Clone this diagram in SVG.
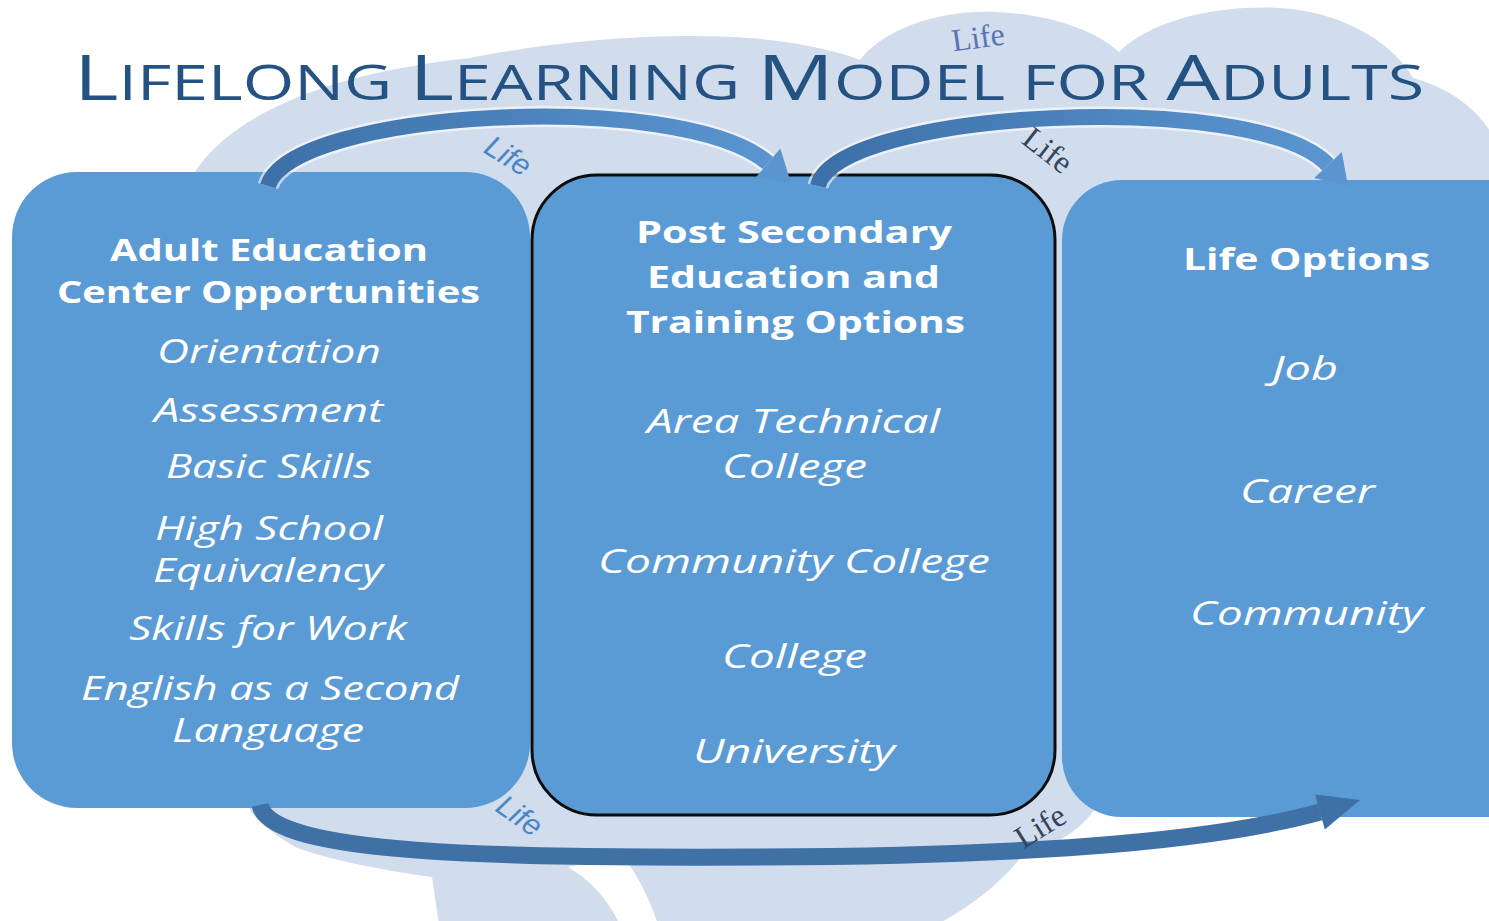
<svg xmlns="http://www.w3.org/2000/svg" width="1489" height="921" viewBox="0 0 1489 921">
<defs>
<style>
.box{fill:#5B9BD5}
.hd{font-family:"Open Sans","Liberation Sans",sans-serif;font-weight:bold;font-size:31px;fill:#FFFFFF}
.it{font-family:"Open Sans","Liberation Sans",sans-serif;font-style:italic;font-size:33px;fill:#FFFFFF}
.ttl{font-family:"Open Sans","Liberation Sans",sans-serif;font-size:49px;fill:#245283}
.big{font-size:63px}
.lifeS{font-family:"Liberation Sans",Arial,sans-serif;font-style:italic;font-size:30px;fill:#4A86C5}
.lifeR{font-family:"Liberation Serif","Times New Roman",serif;font-size:32px;fill:#33455C}
.glow{fill:none;stroke:#FFFFFF;stroke-opacity:0.6;stroke-linecap:butt}
</style>
<linearGradient id="gTop" x1="0" y1="0" x2="1" y2="0">
<stop offset="0" stop-color="#3D70A8"/>
<stop offset="1" stop-color="#5A95D0"/>
</linearGradient>
</defs>
<rect width="1489" height="921" fill="#FFFFFF"/>
<g id="cloud">
<path fill="#D1DCED" d="M 200,400 L 188,185 C 215,125 310,75 470,58 C 560,40 680,30 770,40 C 810,45 840,52 860,60 C 885,28 940,10 995,12 C 1050,14 1095,30 1119,52 C 1150,20 1220,4 1280,8 C 1345,12 1395,45 1413,78 C 1450,88 1480,110 1495,140 L 1495,800 L 1100,800 C 1085,830 1055,845 1021,857 C 1000,885 960,915 925,930 L 660,930 C 650,900 640,880 628,863 C 608,860 588,862 568,867 C 590,880 610,900 622,930 L 440,930 C 436,905 434,890 432,877 C 380,870 330,860 295,847 C 275,835 258,822 250,810 L 250,500 Z"/>
</g>
<g id="title">
<text class="ttl" x="74" y="100" textLength="1350" lengthAdjust="spacingAndGlyphs"><tspan class="big">L</tspan>IFELONG <tspan class="big">L</tspan>EARNING <tspan class="big">M</tspan>ODEL FOR <tspan class="big">A</tspan>DULTS</text>
</g>
<g id="node-adult-education">
<rect class="box" x="12" y="172" width="518" height="636" rx="65" ry="65"/>
<text class="hd" x="110" y="261" textLength="318" lengthAdjust="spacingAndGlyphs">Adult Education</text>
<text class="hd" x="57" y="303" textLength="423" lengthAdjust="spacingAndGlyphs">Center Opportunities</text>
<text class="it" x="157" y="363" textLength="224" lengthAdjust="spacingAndGlyphs">Orientation</text>
<text class="it" x="154" y="422" textLength="229" lengthAdjust="spacingAndGlyphs">Assessment</text>
<text class="it" x="166" y="478" textLength="206" lengthAdjust="spacingAndGlyphs">Basic Skills</text>
<text class="it" x="155" y="540" textLength="228" lengthAdjust="spacingAndGlyphs">High School</text>
<text class="it" x="153" y="582" textLength="230" lengthAdjust="spacingAndGlyphs">Equivalency</text>
<text class="it" x="129" y="640" textLength="278" lengthAdjust="spacingAndGlyphs">Skills for Work</text>
<text class="it" x="81" y="700" textLength="378" lengthAdjust="spacingAndGlyphs">English as a Second</text>
<text class="it" x="172" y="742" textLength="192" lengthAdjust="spacingAndGlyphs">Language</text>
</g>
<g id="node-post-secondary">
<rect class="box" x="532" y="175" width="523" height="640" rx="65" ry="65" stroke="#0D0D0D" stroke-width="3"/>
<text class="hd" x="636" y="243" textLength="316" lengthAdjust="spacingAndGlyphs">Post Secondary</text>
<text class="hd" x="647" y="288" textLength="293" lengthAdjust="spacingAndGlyphs">Education and</text>
<text class="hd" x="626" y="333" textLength="339" lengthAdjust="spacingAndGlyphs">Training Options</text>
<text class="it" x="647" y="433" textLength="293" lengthAdjust="spacingAndGlyphs">Area Technical</text>
<text class="it" x="722" y="478" textLength="145" lengthAdjust="spacingAndGlyphs">College</text>
<text class="it" x="598" y="573" textLength="392" lengthAdjust="spacingAndGlyphs">Community College</text>
<text class="it" x="722" y="668" textLength="145" lengthAdjust="spacingAndGlyphs">College</text>
<text class="it" x="693" y="763" textLength="202" lengthAdjust="spacingAndGlyphs">University</text>
</g>
<g id="node-life-options">
<rect class="box" x="1062" y="180" width="520" height="637" rx="60" ry="60"/>
<text class="hd" x="1183" y="270" textLength="247" lengthAdjust="spacingAndGlyphs">Life Options</text>
<text class="it" x="1272" y="380" textLength="66" lengthAdjust="spacingAndGlyphs">Job</text>
<text class="it" x="1240" y="503" textLength="135" lengthAdjust="spacingAndGlyphs">Career</text>
<text class="it" x="1190" y="625" textLength="233" lengthAdjust="spacingAndGlyphs">Community</text>
</g>
<g id="connectors">
<path class="glow" stroke-width="21" d="M 268,186 C 290,110 680,88 768,163"/>
<path fill="none" stroke="url(#gTop)" stroke-width="16" d="M 268,186 C 290,110 680,88 768,163"/>
<polygon fill="#5A95D0" points="780.3,148.5 755.7,177.5 791,183"/>
<path class="glow" stroke-width="21" d="M 818,186 C 835,110 1255,88 1328,165"/>
<path fill="none" stroke="url(#gTop)" stroke-width="16" d="M 818,186 C 835,110 1255,88 1328,165"/>
<polygon fill="#5A95D0" points="1341.8,151.9 1314.2,178.1 1348,186"/>
<path fill="none" stroke="#3F70A6" stroke-width="17" d="M 260,805 C 270,855 500,858 760,857 C 1000,856 1200,845 1320,812"/>
<polygon fill="#3F70A6" points="1324.8,829.4 1315.2,794.6 1360,800"/>
<text class="lifeS" x="508" y="166" text-anchor="middle" transform="rotate(32 508 156)">Life</text>
<text class="lifeR" x="1048" y="161" text-anchor="middle" transform="rotate(38 1048 150)">Life</text>
<text class="lifeR" x="978" y="48" text-anchor="middle" style="fill:#5A74B5" transform="rotate(-8 978 37)">Life</text>
<text class="lifeS" x="520" y="826" text-anchor="middle" transform="rotate(35 520 815)">Life</text>
<text class="lifeR" x="1040" y="837" text-anchor="middle" transform="rotate(-32 1040 826)">Life</text>
</g>
</svg>
